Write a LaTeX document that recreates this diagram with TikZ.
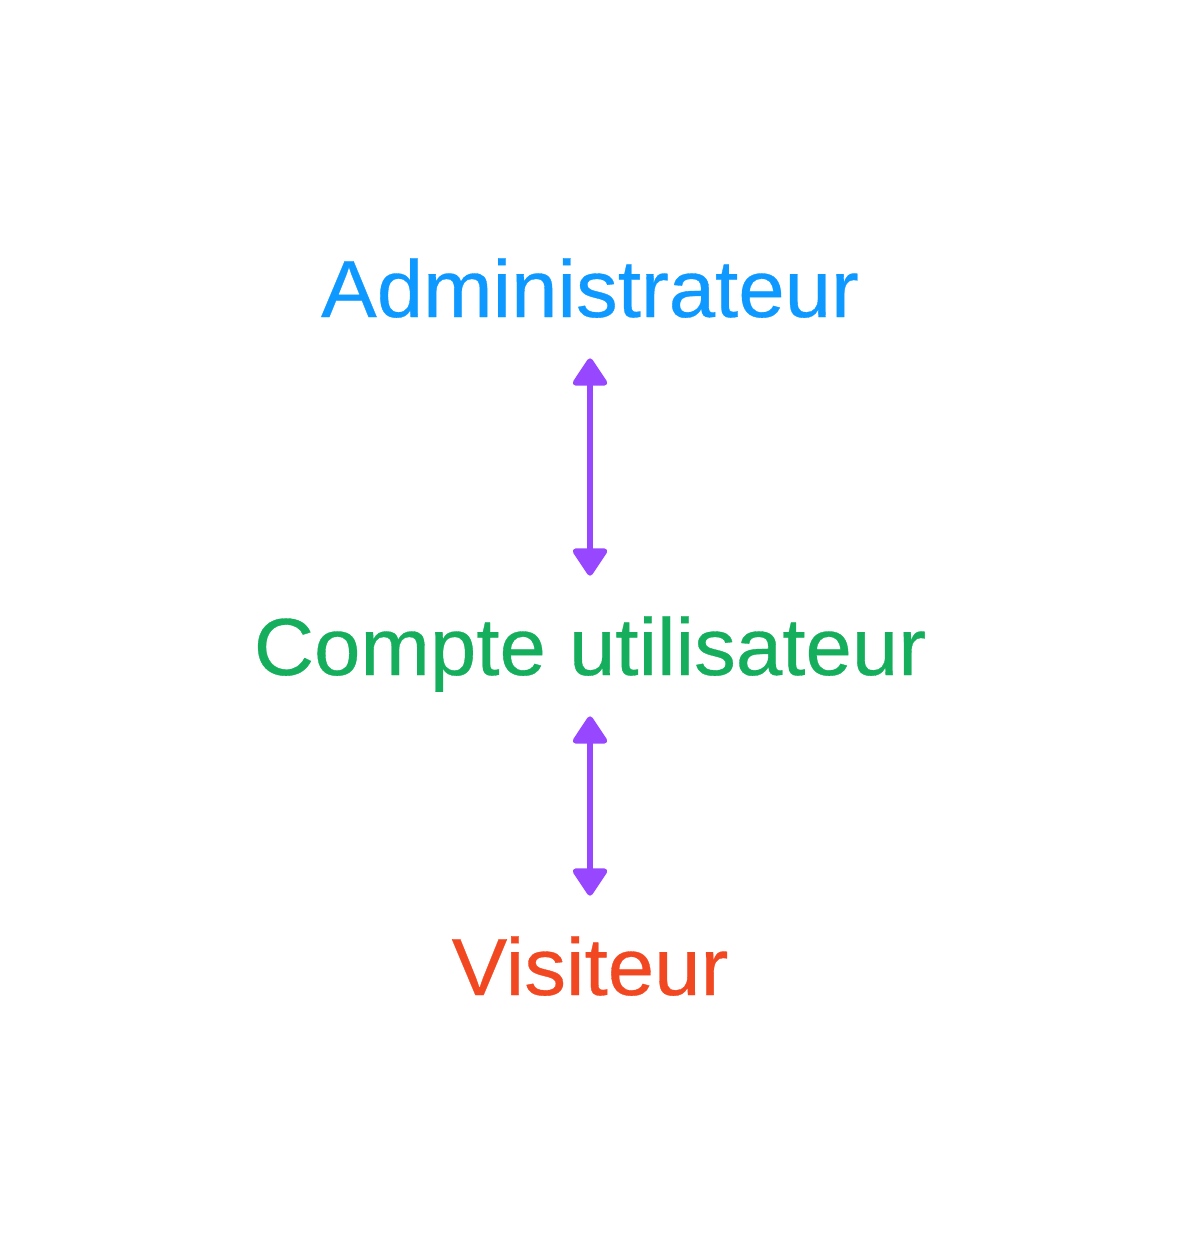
\documentclass[tikz,border=0pt]{standalone}
\usepackage{fontspec}
\setmainfont{Liberation Sans}[FakeStretch=1.03, FakeBold=0.4]
\usepackage{xcolor}
\usepackage{tikz}
\usetikzlibrary{arrows.meta}
\definecolor{adminblue}{HTML}{0D99FF}
\definecolor{comptegreen}{HTML}{14AE5C}
\definecolor{visitred}{HTML}{F24822}
\definecolor{linkpurple}{HTML}{9747FF}
\begin{document}
\begin{tikzpicture}[x=0.02cm, y=-0.02cm,
        role/.style={inner sep=0pt, anchor=base, text height=1.16cm, text depth=0pt, font=\fontsize{46.1pt}{55pt}\selectfont},
        duplex/.style={linkpurple, line width=0.12cm, shorten <=0.82cm, shorten >=0.82cm,
            {Triangle[width=0.76cm, length=0.6cm, round]}-{Triangle[width=0.76cm, length=0.6cm, round]}}]
        %CADRE
        \useasboundingbox (0,0) rectangle (1182,1253);
        %ROLES
        \node[role, text=adminblue] (admin) at (590,317) {Administrateur};
        \node[role, text=comptegreen] (compte) at (590,675) {Compte utilisateur};
        \node[role, text=visitred] (visiteur) at (590,995) {Visiteur};
        %LIENS
        \draw[duplex] (admin) -- (compte);
        \draw[duplex] (compte.south) -- (visiteur.north);
    \end{tikzpicture}
\end{document}
